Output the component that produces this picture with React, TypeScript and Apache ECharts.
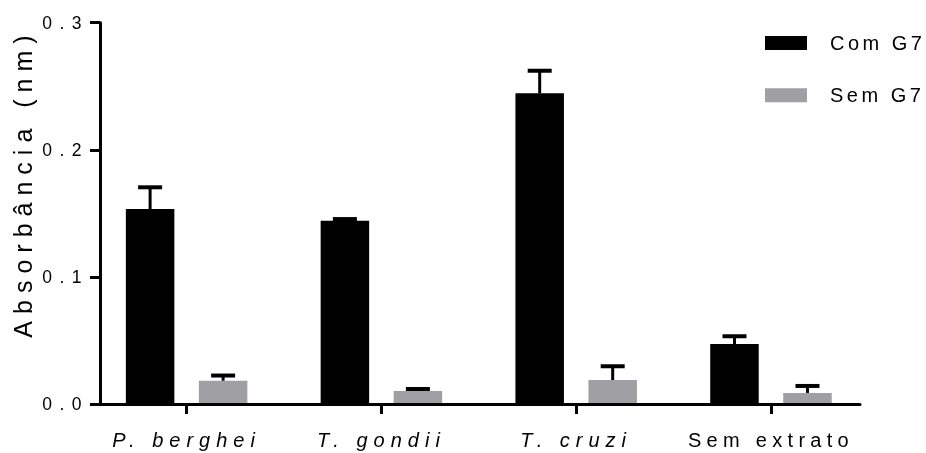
import React, { useEffect, useRef } from 'react';
import * as echarts from 'echarts';

const categories = ['P. berghei', 'T. gondii', 'T. cruzi', 'Sem extrato'];
const italicCategories = [true, true, true, false];
const seriesNames = ['Com G7', 'Sem G7'];
const comG7 = [0.1534, 0.1442, 0.2444, 0.0472];
const comG7Err = [0.0171, 0.0013, 0.0178, 0.0061];
const semG7 = [0.0183, 0.0102, 0.0189, 0.0087];
const semG7Err = [0.0041, 0.0016, 0.0108, 0.0055];
const yTicks = [0, 0.1, 0.2, 0.3];
const yTitle = 'Absorbância (nm)';

const FONT = 'Liberation Sans, Arial, Helvetica, sans-serif';
const BLACK = '#000000';
const GREY = '#a0a0a4';

const BAR_W = 48.5;
const CAP_W = 24;

function makeRender(offsetPx: number, color: string, errs: number[]) {
  return (params: any, api: any) => {
    const idx = api.value(0);
    const val = api.value(1);
    const base = api.coord([idx, 0]);
    const top = api.coord([idx, val]);
    const errTop = api.coord([idx, val + errs[idx]]);
    const cx = base[0] + offsetPx;
    return {
      type: 'group',
      children: [
        {
          type: 'rect',
          shape: { x: cx - BAR_W / 2, y: top[1], width: BAR_W, height: base[1] - top[1] },
          style: { fill: color },
        },
        {
          type: 'line',
          shape: { x1: cx, y1: top[1], x2: cx, y2: errTop[1] },
          style: { stroke: BLACK, lineWidth: 3 },
        },
        {
          type: 'line',
          shape: { x1: cx - CAP_W / 2, y1: errTop[1], x2: cx + CAP_W / 2, y2: errTop[1] },
          style: { stroke: BLACK, lineWidth: 4 },
        },
      ],
    };
  };
}

export default function App() {
  const ref = useRef<HTMLDivElement>(null);
  useEffect(() => {
    const el = ref.current!;
    const chart = echarts.init(el, null, { renderer: 'svg' });
    const idxs = categories.map((_, i) => i);
    const option: any = {
      animation: false,
      textStyle: { fontFamily: FONT, color: BLACK },
      grid: { left: 100, right: 66, top: 22.7, bottom: 49, outerBoundsMode: 'none' },
      legend: {
        orient: 'vertical',
        left: 765,
        top: 31.5,
        padding: 0,
        itemWidth: 42,
        itemHeight: 14,
        itemGap: 29.3,
        icon: 'rect',
        selectedMode: false,
        data: seriesNames,
        textStyle: {
          fontSize: 20,
          lineHeight: 20,
          fontFamily: FONT,
          color: BLACK,
          padding: [3, 0, 0, 18],
        },
      },
      xAxis: {
        type: 'value',
        min: -0.4446,
        max: 3.457,
        z: 10,
        axisLine: { show: true, onZero: false, lineStyle: { color: BLACK, width: 3 } },
        axisTick: { show: true, length: 10, customValues: idxs, lineStyle: { color: BLACK, width: 3 } },
        axisLabel: {
          customValues: idxs,
          margin: 26,
          formatter: (v: number) => {
            const i = Math.round(v);
            return italicCategories[i] ? `{it|${categories[i]}}` : `{n|${categories[i]}}`;
          },
          rich: {
            it: { fontStyle: 'italic', fontSize: 20, lineHeight: 20, fontFamily: FONT, color: BLACK },
            n: { fontSize: 20, lineHeight: 20, fontFamily: FONT, color: BLACK },
          },
        },
        splitLine: { show: false },
      },
      yAxis: {
        type: 'value',
        min: yTicks[0],
        max: yTicks[yTicks.length - 1],
        interval: 0.1,
        axisLine: { show: true, onZero: false, lineStyle: { color: BLACK, width: 3 } },
        axisTick: { show: true, length: 10, lineStyle: { color: BLACK, width: 3 } },
        axisLabel: {
          margin: 11,
          fontSize: 17.5,
          fontFamily: FONT,
          color: BLACK,
          formatter: (v: number) => `{t|${v.toFixed(1)}}`,
          rich: {
            t: { fontSize: 17.5, lineHeight: 18, fontFamily: FONT, color: BLACK },
          },
        },
        splitLine: { show: false },
      },
      graphic: [
        {
          type: 'text',
          x: 22.5,
          y: 183,
          rotation: Math.PI / 2,
          style: {
            text: yTitle,
            fontSize: 25,
            fontFamily: FONT,
            fill: BLACK,
            align: 'center',
            verticalAlign: 'middle',
          },
        },
      ],
      series: [
        {
          name: seriesNames[0],
          type: 'custom',
          itemStyle: { color: BLACK },
          encode: { x: 0, y: 1 },
          data: comG7.map((v, i) => [i, v]),
          renderItem: makeRender(-36.5, BLACK, comG7Err),
        },
        {
          name: seriesNames[1],
          type: 'custom',
          itemStyle: { color: GREY },
          encode: { x: 0, y: 1 },
          data: semG7.map((v, i) => [i, v]),
          renderItem: makeRender(36.5, GREY, semG7Err),
        },
      ],
    };
    chart.setOption(option);

    const tickLabels = yTicks.map((v) => v.toFixed(1));
    const apply = () => {
      el.querySelectorAll('text').forEach((t: any) => {
        const s = (t.textContent || '').trim();
        let sp = 0;
        if (tickLabels.includes(s)) sp = 7.5;
        else if (categories.includes(s)) sp = italicCategories[categories.indexOf(s)] ? 6 : 5.3;
        else if (seriesNames.includes(s)) sp = 3.5;
        else if (s === yTitle) sp = 7;
        if (sp) t.style.letterSpacing = sp + 'px';
      });
    };
    apply();
    chart.on('finished', apply);
    const timer = setTimeout(apply, 100);
    return () => {
      clearTimeout(timer);
      chart.dispose();
    };
  }, []);
  return <div ref={ref} style={{ position: 'fixed', left: 0, top: 0, width: 926, height: 453 }} />;
}
